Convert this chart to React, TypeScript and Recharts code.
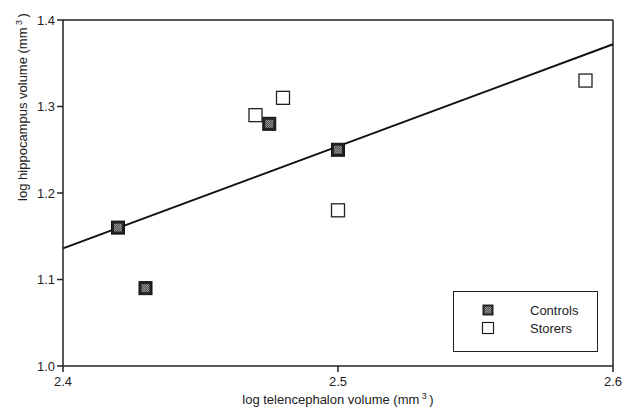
import React from 'react';
import {
  ScatterChart,
  Scatter,
  XAxis,
  YAxis,
  ReferenceLine
} from 'recharts';

// Data
const controls = [
  { x: 2.42, y: 1.16 },
  { x: 2.43, y: 1.09 },
  { x: 2.475, y: 1.28 },
  { x: 2.5, y: 1.25 },
];

const storers = [
  { x: 2.47, y: 1.29 },
  { x: 2.48, y: 1.31 },
  { x: 2.5, y: 1.18 },
  { x: 2.59, y: 1.33 },
];

// regression line end points
const fitLine = [
  { x: 2.4, y: 1.136 },
  { x: 2.6, y: 1.372 },
];

const xTicks = [2.4, 2.5, 2.6];
const yTicks = [1.0, 1.1, 1.2, 1.3, 1.4];

const FONT = '"Liberation Sans", Arial, sans-serif';
const SIZE = 13;

const ControlMark = (props: any) => {
  const { cx, cy } = props;
  return (
    <g>
      <rect x={cx - 6.5} y={cy - 6.5} width={13} height={13} fill="#222" stroke="#111" strokeWidth={1} />
      <rect x={cx - 4} y={cy - 4} width={8} height={8} fill="url(#speckle)" />
    </g>
  );
};

const StorerMark = (props: any) => {
  const { cx, cy } = props;
  return <rect x={cx - 6.5} y={cy - 6.5} width={13} height={13} fill="#fff" stroke="#222" strokeWidth={1.3} />;
};

// legend box drawn inside the chart svg
const LegendBox = () => (
  <g transform="translate(453, 291)">
    <rect x={0.5} y={0.5} width={144} height={60} fill="#fff" stroke="#222" strokeWidth={1} />
    <rect x={29.5} y={13.5} width={11} height={11} fill="#222" />
    <rect x={31.5} y={15.5} width={7} height={7} fill="url(#speckle)" />
    <text x={77} y={24} fontFamily={FONT} fontSize={SIZE} fill="#222">Controls</text>
    <rect x={29.5} y={31.5} width={11} height={11} fill="#fff" stroke="#222" strokeWidth={1.2} />
    <text x={77} y={42} fontFamily={FONT} fontSize={SIZE} fill="#222">Storers</text>
  </g>
);

const XTitle = () => (
  <text x={338} y={404} textAnchor="middle" fontFamily={FONT} fontSize={SIZE} fill="#222">
    log telencephalon volume (mm
    <tspan dy={-5} fontSize={9}> 3 </tspan>
    <tspan dy={5}>)</tspan>
  </text>
);

const YTitle = () => (
  <text
    x={0}
    y={0}
    transform="translate(27, 107) rotate(-90)"
    textAnchor="middle"
    fontFamily={FONT}
    fontSize={SIZE}
    fill="#222"
  >
    log hippocampus volume (mm
    <tspan dy={-5} fontSize={9}> 3 </tspan>
    <tspan dy={5}>)</tspan>
  </text>
);

const App = () => {
  return (
    <div style={{ position: 'absolute', left: 0, top: 0, background: '#fff' }}>
      <ScatterChart width={625} height={408} margin={{ top: 20, right: 12, left: 0, bottom: 0 }}>
        <defs>
          <pattern id="speckle" width={2} height={2} patternUnits="userSpaceOnUse">
            <rect width={2} height={2} fill="#555" />
            <rect width={1} height={1} fill="#999" />
            <rect x={1} y={1} width={1} height={1} fill="#888" />
          </pattern>
        </defs>
        <XAxis
          type="number"
          dataKey="x"
          domain={[2.4, 2.6]}
          ticks={xTicks}
          tickFormatter={(v: number) => v.toFixed(1)}
          height={42}
          stroke="#222"
          strokeWidth={1.5}
          tickSize={6}
          tick={{ fill: '#222', fontSize: SIZE, fontFamily: FONT, dy: 3 }}
          allowDataOverflow
        />
        <YAxis
          type="number"
          dataKey="y"
          domain={[1.0, 1.4]}
          ticks={yTicks}
          tickFormatter={(v: number) => v.toFixed(1)}
          width={63}
          stroke="#222"
          strokeWidth={1.5}
          tickSize={6}
          tick={{ fill: '#222', fontSize: SIZE, fontFamily: FONT }}
          allowDataOverflow
        />
        <ReferenceLine y={1.4} stroke="#222" strokeWidth={1.5} />
        <ReferenceLine x={2.6} stroke="#222" strokeWidth={1.5} />
        <ReferenceLine segment={fitLine} stroke="#111" strokeWidth={2} />
        <Scatter name="Controls" data={controls} shape={<ControlMark />} isAnimationActive={false} />
        <Scatter name="Storers" data={storers} shape={<StorerMark />} isAnimationActive={false} />
        <LegendBox />
        <XTitle />
        <YTitle />
      </ScatterChart>
    </div>
  );
};

export default App;
